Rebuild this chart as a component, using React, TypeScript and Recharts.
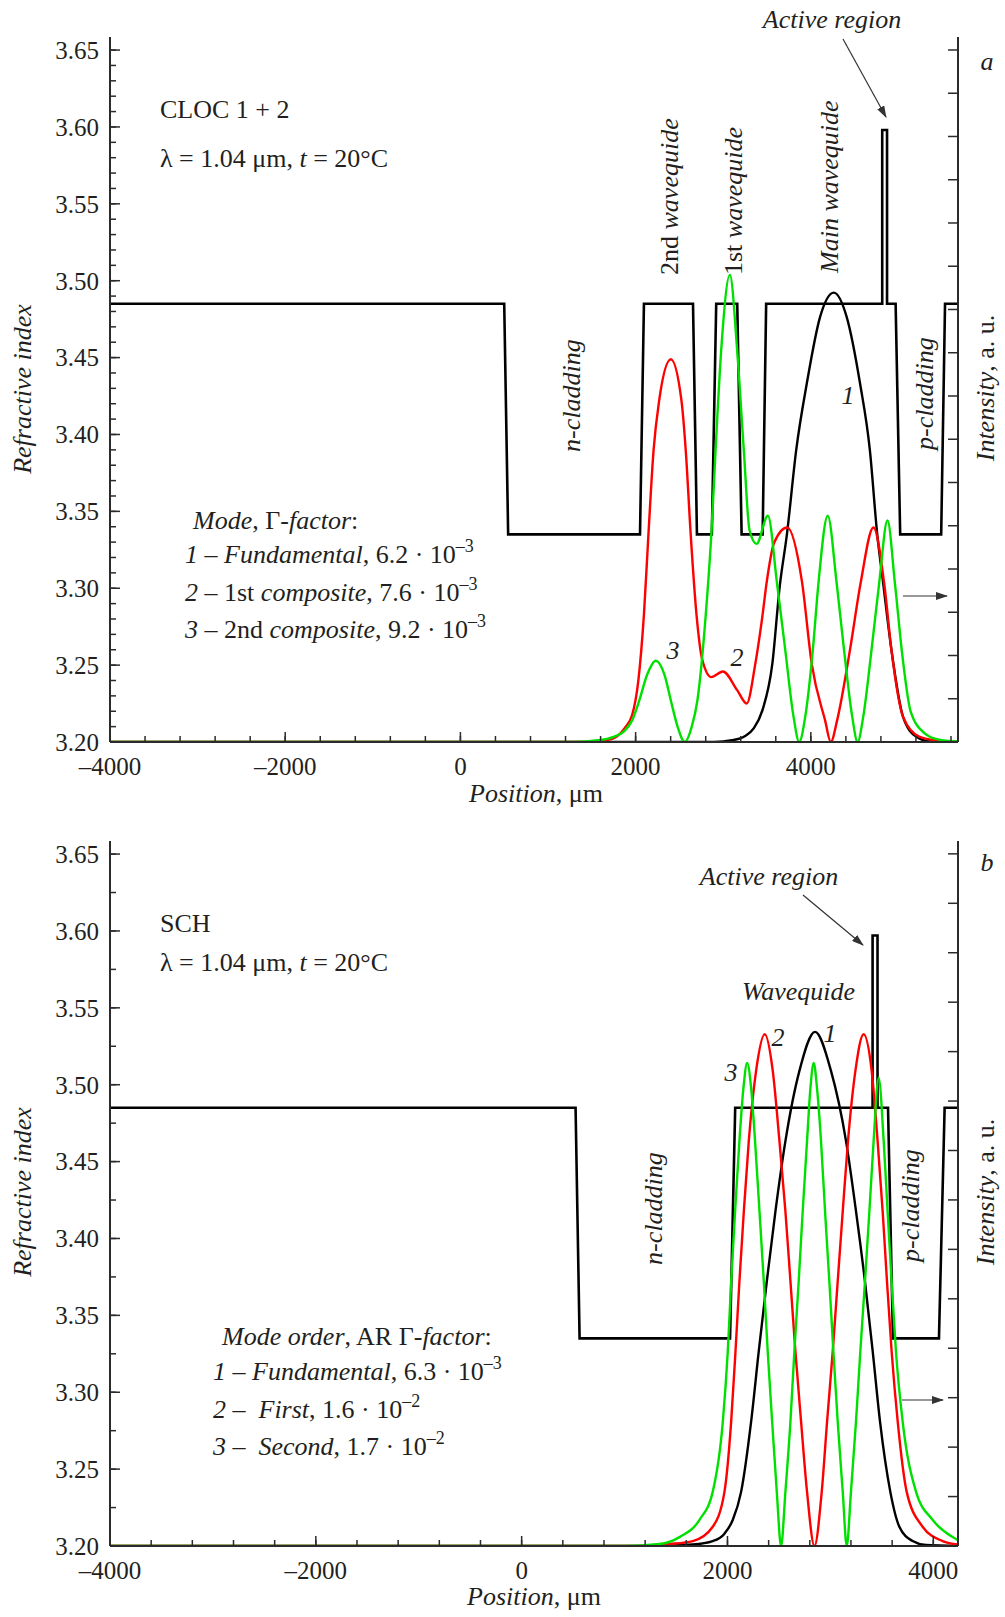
import { LineChart, Line, XAxis, YAxis } from "recharts";

// panel a: CLOC 1 + 2 (position in um, refractive index / intensity in a.u.)
const A_PROFILE_X = [-4000, 500, 545, 2050, 2095, 2655, 2700, 2870, 2920, 3160, 3210, 3450, 3490, 4815, 4815, 4870, 4870, 4968, 5020, 5488, 5532, 5680];
const A_PROFILE_N = [3.485, 3.485, 3.335, 3.335, 3.485, 3.485, 3.335, 3.335, 3.485, 3.485, 3.335, 3.335, 3.485, 3.485, 3.598, 3.598, 3.485, 3.485, 3.335, 3.335, 3.485, 3.485];

const A_MODE1_X = [-4000, 2900, 3100, 3250, 3350, 3450, 3560, 3645, 3727, 3833, 3955, 4106, 4262, 4409, 4561, 4674, 4758, 4826, 4920, 5053, 5205, 5360, 5680];
const A_MODE1_I = [0, 0, 0.04, 0.14, 0.32, 0.75, 1.8, 3.6, 4.8, 6.75, 8.3, 9.83, 10.39, 9.83, 8.3, 6.75, 4.8, 3.67, 2.13, 0.58, 0.12, 0.01, 0];

const A_MODE2_X = [-4000, 1300, 1560, 1716, 1875, 1960, 2030, 2095, 2146, 2205, 2269, 2402, 2523, 2572, 2629, 2697, 2761, 2864, 2996, 3159, 3268, 3364, 3440, 3500, 3580, 3730, 3898, 4011, 4163, 4228, 4300, 4447, 4568, 4715, 4837, 4920, 5053, 5242, 5466, 5680];
const A_MODE2_I = [0, 0, 0.02, 0.06, 0.32, 0.62, 1.4, 2.95, 4.79, 6.75, 7.9, 8.85, 7.9, 6.75, 4.79, 2.9, 1.9, 1.5, 1.63, 1.2, 0.89, 1.78, 2.8, 3.75, 4.6, 4.96, 3.72, 1.8, 0.5, 0, 0.5, 2.13, 3.67, 4.96, 3.67, 2.13, 0.58, 0.12, 0.03, 0];

const A_MODE3_X = [-4000, 1300, 1568, 1750, 1871, 1960, 2042, 2130, 2231, 2330, 2402, 2480, 2561, 2640, 2705, 2799, 2864, 2913, 2977, 3076, 3159, 3235, 3300, 3380, 3510, 3614, 3708, 3803, 3867, 3936, 4023, 4087, 4193, 4295, 4379, 4473, 4534, 4598, 4693, 4780, 4875, 4960, 5045, 5140, 5300, 5450, 5680];
const A_MODE3_I = [0, 0, 0.04, 0.12, 0.25, 0.5, 0.96, 1.55, 1.88, 1.55, 0.96, 0.35, 0, 0.35, 0.96, 2.9, 4.79, 6.75, 9.06, 10.8, 9.06, 6.75, 4.9, 4.58, 5.23, 3.67, 2.13, 0.58, 0, 0.58, 2.13, 3.67, 5.23, 3.67, 2.13, 0.58, 0, 0.58, 2.13, 3.67, 5.12, 3.67, 2.0, 0.7, 0.2, 0.06, 0.01];

// panel b: SCH
const B_PROFILE_X = [-4000, 524, 563, 2025, 2075, 3410, 3410, 3458, 3458, 3560, 3608, 4055, 4110, 4240];
const B_PROFILE_N = [3.485, 3.485, 3.335, 3.335, 3.485, 3.485, 3.597, 3.597, 3.485, 3.485, 3.335, 3.335, 3.485, 3.485];

const B_MODE1_X = [-4000, 1300, 1663, 1857, 1971, 2052, 2133, 2230, 2304, 2382, 2466, 2563, 2699, 2851, 3006, 3152, 3249, 3336, 3411, 3482, 3582, 3670, 3799, 3929, 4240];
const B_MODE1_I = [0, 0, 0.03, 0.1, 0.25, 0.53, 1.1, 2.52, 3.94, 5.35, 6.77, 8.19, 9.61, 10.4, 9.61, 8.19, 6.77, 5.35, 3.94, 2.52, 1.1, 0.39, 0.1, 0.02, 0];

const B_MODE2_X = [-4000, 1100, 1437, 1663, 1857, 1971, 2036, 2078, 2116, 2159, 2207, 2278, 2362, 2440, 2505, 2563, 2612, 2660, 2715, 2773, 2845, 2916, 2968, 3023, 3071, 3120, 3171, 3243, 3323, 3401, 3459, 3508, 3550, 3595, 3654, 3741, 3896, 4090, 4240];
const B_MODE2_I = [0, 0, 0.04, 0.1, 0.39, 1.1, 2.52, 3.94, 5.35, 6.77, 8.19, 9.61, 10.35, 9.61, 8.19, 6.77, 5.35, 3.94, 2.52, 1.1, 0, 1.1, 2.52, 3.94, 5.35, 6.77, 8.19, 9.61, 10.35, 9.61, 8.19, 6.77, 5.35, 3.94, 2.52, 1.1, 0.39, 0.1, 0.03];

const B_MODE3_X = [-4000, 1000, 1340, 1534, 1728, 1857, 1955, 2003, 2036, 2074, 2116, 2155, 2191, 2230, 2268, 2311, 2353, 2391, 2434, 2479, 2521, 2563, 2612, 2650, 2692, 2731, 2773, 2806, 2838, 2870, 2909, 2948, 2990, 3029, 3071, 3120, 3159, 3200, 3249, 3291, 3336, 3379, 3420, 3469, 3518, 3556, 3595, 3637, 3702, 3832, 3993, 4187, 4240];
const B_MODE3_I = [0, 0, 0.04, 0.18, 0.53, 1.1, 2.52, 3.94, 5.35, 6.77, 8.19, 9.26, 9.77, 9.26, 8.19, 6.77, 5.35, 3.94, 2.52, 1.1, 0, 1.1, 2.52, 3.94, 5.35, 6.77, 8.19, 9.26, 9.77, 9.26, 8.19, 6.77, 5.35, 3.94, 2.52, 1.1, 0, 1.1, 2.52, 3.94, 5.35, 6.77, 8.19, 9.47, 8.19, 6.77, 5.35, 3.94, 2.52, 1.1, 0.53, 0.18, 0.12];

// axis ticks
const N_TICKS = [3.2, 3.25, 3.3, 3.35, 3.4, 3.45, 3.5, 3.55, 3.6, 3.65];
const X_TICKS = [-4000, -2000, 0, 2000, 4000];
const A_INT_TICKS = [0, 1, 2, 3, 4, 5, 6, 7, 8, 9, 10, 11, 12, 13, 14, 15, 16];
const B_INT_TICKS = [0, 1, 2, 3, 4, 5, 6, 7, 8, 9, 10, 11, 12, 13, 14];

const SERIF = "'Liberation Serif', 'Times New Roman', serif";
const INK = "#231f20";
const AXIS = "#2b2b2b";
const MODE_COLORS = ["#000000", "#ff0000", "#00e000"];

type Pt = { x: number; y: number };
const zip = (xs: number[], ys: number[]): Pt[] => xs.map((x, i) => ({ x, y: ys[i] }));

// minor tick positions (no labels)
const minor = (from: number, to: number, step: number) => {
  const out: number[] = [];
  for (let k = 0; from + k * step <= to + 1e-9; k++) out.push(+(from + k * step).toFixed(4));
  return out;
};

const fmtX = (v: number) => (v < 0 ? `\u2013${Math.abs(v)}` : `${v}`);
const fmtN = (v: number) => v.toFixed(2);
const noLabel = () => <g />;

interface PanelProps {
  top: number;
  height: number;
  marginTop: number;
  xMax: number;
  xMinor: number[];
  nMinor: number[];
  intMax: number;
  intTicks: number[];
  profile: Pt[];
  modes: Pt[][];
}

function Panel(p: PanelProps) {
  const tickText = { fontFamily: SERIF, fontSize: 25, fill: INK };
  const axisLine = { stroke: AXIS, strokeWidth: 2 };
  const tickLine = { stroke: AXIS, strokeWidth: 1.5 };
  return (
    <div style={{ position: "absolute", left: 0, top: p.top }}>
      <LineChart width={1005} height={p.height} margin={{ top: p.marginTop, right: 47, bottom: 0, left: 0 }}>
        <XAxis dataKey="x" type="number" domain={[-4000, p.xMax]} ticks={X_TICKS} interval={0} allowDataOverflow
          height={58} tickSize={-10} tickMargin={25} tickFormatter={fmtX} tick={tickText} axisLine={axisLine} tickLine={tickLine} />
        <XAxis xAxisId="minor" dataKey="x" type="number" domain={[-4000, p.xMax]} ticks={p.xMinor} interval={0} allowDataOverflow
          mirror tick={noLabel} tickSize={6} axisLine={false} tickLine={tickLine} />
        <YAxis yAxisId="n" type="number" domain={[3.2, 3.6585]} ticks={N_TICKS} interval={0} allowDataOverflow
          width={110} tickSize={-10} tickMargin={21} tickFormatter={fmtN} tick={tickText} axisLine={axisLine} tickLine={tickLine} />
        <YAxis yAxisId="nMinor" type="number" domain={[3.2, 3.6585]} ticks={p.nMinor} interval={0} allowDataOverflow
          mirror tick={noLabel} tickSize={6} axisLine={false} tickLine={tickLine} />
        <YAxis yAxisId="int" orientation="right" type="number" domain={[0, p.intMax]} ticks={p.intTicks} interval={0} allowDataOverflow
          mirror tick={noLabel} tickSize={10} axisLine={axisLine} tickLine={tickLine} />
        <Line yAxisId="n" data={p.profile} dataKey="y" type="linear" stroke="#000" strokeWidth={2.6}
          dot={false} activeDot={false} isAnimationActive={false} />
        {p.modes.map((m, i) => (
          <Line key={i} yAxisId="int" data={m} dataKey="y" type="monotone" stroke={MODE_COLORS[i]} strokeWidth={2.4}
            dot={false} activeDot={false} isAnimationActive={false} />
        ))}
      </LineChart>
    </div>
  );
}

const VText = ({ x, y, anchor = "middle", italic = false, children }: {
  x: number; y: number; anchor?: "start" | "middle" | "end"; italic?: boolean; children: React.ReactNode;
}) => (
  <text transform={`translate(${x} ${y}) rotate(-90)`} textAnchor={anchor} fontStyle={italic ? "italic" : "normal"}>
    {children}
  </text>
);

const Sup = ({ children }: { children: React.ReactNode }) => (
  <tspan dy={-11} fontSize={18}>{children}</tspan>
);

function Annotations() {
  const it = { fontStyle: "italic" as const };
  return (
    <svg width={1005} height={1617} style={{ position: "absolute", left: 0, top: 0, pointerEvents: "none" }}
      fontFamily={SERIF} fontSize={26} fill={INK}>
      <defs>
        <marker id="ah" markerWidth="12" markerHeight="8" refX="11" refY="4" orient="auto" markerUnits="userSpaceOnUse">
          <path d="M0,0 L12,4 L0,8 z" fill="#333" />
        </marker>
      </defs>

      {/* panel a */}
      <text x={160} y={118}>CLOC 1 + 2</text>
      <text x={160} y={167}>λ = 1.04 μm, <tspan {...it}>t</tspan> = 20°C</text>
      <text x={987} y={70} textAnchor="middle" {...it}>a</text>
      <text x={832} y={28} textAnchor="middle" {...it}>Active region</text>
      <line x1={843} y1={39} x2={886} y2={117} stroke="#333" strokeWidth={1.2} markerEnd="url(#ah)" />
      <VText x={678} y={275} anchor="start">2nd <tspan {...it}>wavequide</tspan></VText>
      <VText x={742} y={275} anchor="start">1st <tspan {...it}>wavequide</tspan></VText>
      <VText x={838} y={273} anchor="start" italic>Main wavequide</VText>
      <VText x={580} y={452} anchor="start" italic>n-cladding</VText>
      <VText x={933} y={450} anchor="start" italic>p-cladding</VText>
      <text x={848} y={404} textAnchor="middle" {...it}>1</text>
      <text x={673} y={659} textAnchor="middle" {...it}>3</text>
      <text x={737} y={666} textAnchor="middle" {...it}>2</text>
      <text x={193} y={529}><tspan {...it}>Mode</tspan>, Γ-<tspan {...it}>factor</tspan>:</text>
      <text x={185} y={563}><tspan {...it}>1</tspan> – <tspan {...it}>Fundamental</tspan>, 6.2 · 10<Sup>–3</Sup></text>
      <text x={185} y={601}><tspan {...it}>2</tspan> – 1st <tspan {...it}>composite</tspan>, 7.6 · 10<Sup>–3</Sup></text>
      <text x={185} y={638}><tspan {...it}>3</tspan> – 2nd <tspan {...it}>composite</tspan>, 9.2 · 10<Sup>–3</Sup></text>
      <VText x={31} y={389} italic>Refractive index</VText>
      <VText x={994} y={388}><tspan {...it}>Intensity</tspan>, a. u.</VText>
      <text x={536} y={802} textAnchor="middle"><tspan {...it}>Position</tspan>, μm</text>
      <line x1={903} y1={596} x2={947} y2={596} stroke="#333" strokeWidth={1.2} markerEnd="url(#ah)" />

      {/* panel b */}
      <text x={160} y={932}>SCH</text>
      <text x={160} y={971}>λ = 1.04 μm, <tspan {...it}>t</tspan> = 20°C</text>
      <text x={987} y={871} textAnchor="middle" {...it}>b</text>
      <text x={769} y={885} textAnchor="middle" {...it}>Active region</text>
      <line x1={803} y1={895} x2={863} y2={945} stroke="#333" strokeWidth={1.2} markerEnd="url(#ah)" />
      <text x={742} y={1000} {...it}>Wavequide</text>
      <text x={778} y={1046} textAnchor="middle" {...it}>2</text>
      <text x={830} y={1042} textAnchor="middle" {...it}>1</text>
      <text x={731} y={1081} textAnchor="middle" {...it}>3</text>
      <VText x={662} y={1265} anchor="start" italic>n-cladding</VText>
      <VText x={919} y={1262} anchor="start" italic>p-cladding</VText>
      <text x={222} y={1345}><tspan {...it}>Mode order</tspan>, AR Γ-<tspan {...it}>factor</tspan>:</text>
      <text x={213} y={1380}><tspan {...it}>1</tspan> – <tspan {...it}>Fundamental</tspan>, 6.3 · 10<Sup>–3</Sup></text>
      <text x={213} y={1418}><tspan {...it}>2</tspan> –{"\u00a0 "}<tspan {...it}>First</tspan>, 1.6 · 10<Sup>–2</Sup></text>
      <text x={213} y={1455}><tspan {...it}>3</tspan> –{"\u00a0 "}<tspan {...it}>Second</tspan>, 1.7 · 10<Sup>–2</Sup></text>
      <VText x={31} y={1192} italic>Refractive index</VText>
      <VText x={994} y={1192}><tspan {...it}>Intensity</tspan>, a. u.</VText>
      <text x={534} y={1605} textAnchor="middle"><tspan {...it}>Position</tspan>, μm</text>
      <line x1={902} y1={1400} x2={943} y2={1400} stroke="#333" strokeWidth={1.2} markerEnd="url(#ah)" />
    </svg>
  );
}

export default function App() {
  return (
    <div style={{ position: "absolute", left: 0, top: 0, width: 1005, height: 1617, background: "#fff", overflow: "hidden" }}>
      <Panel
        top={0}
        height={800}
        marginTop={37}
        xMax={5680}
        xMinor={minor(-4000, 5600, 400)}
        nMinor={minor(3.2, 3.65, 0.01)}
        intMax={16.3}
        intTicks={A_INT_TICKS}
        profile={zip(A_PROFILE_X, A_PROFILE_N)}
        modes={[zip(A_MODE1_X, A_MODE1_I), zip(A_MODE2_X, A_MODE2_I), zip(A_MODE3_X, A_MODE3_I)]}
      />
      <Panel
        top={800}
        height={804}
        marginTop={41}
        xMax={4240}
        xMinor={minor(-4000, 4000, 400)}
        nMinor={minor(3.2, 3.65, 0.025)}
        intMax={14.26}
        intTicks={B_INT_TICKS}
        profile={zip(B_PROFILE_X, B_PROFILE_N)}
        modes={[zip(B_MODE1_X, B_MODE1_I), zip(B_MODE2_X, B_MODE2_I), zip(B_MODE3_X, B_MODE3_I)]}
      />
      <Annotations />
    </div>
  );
}
